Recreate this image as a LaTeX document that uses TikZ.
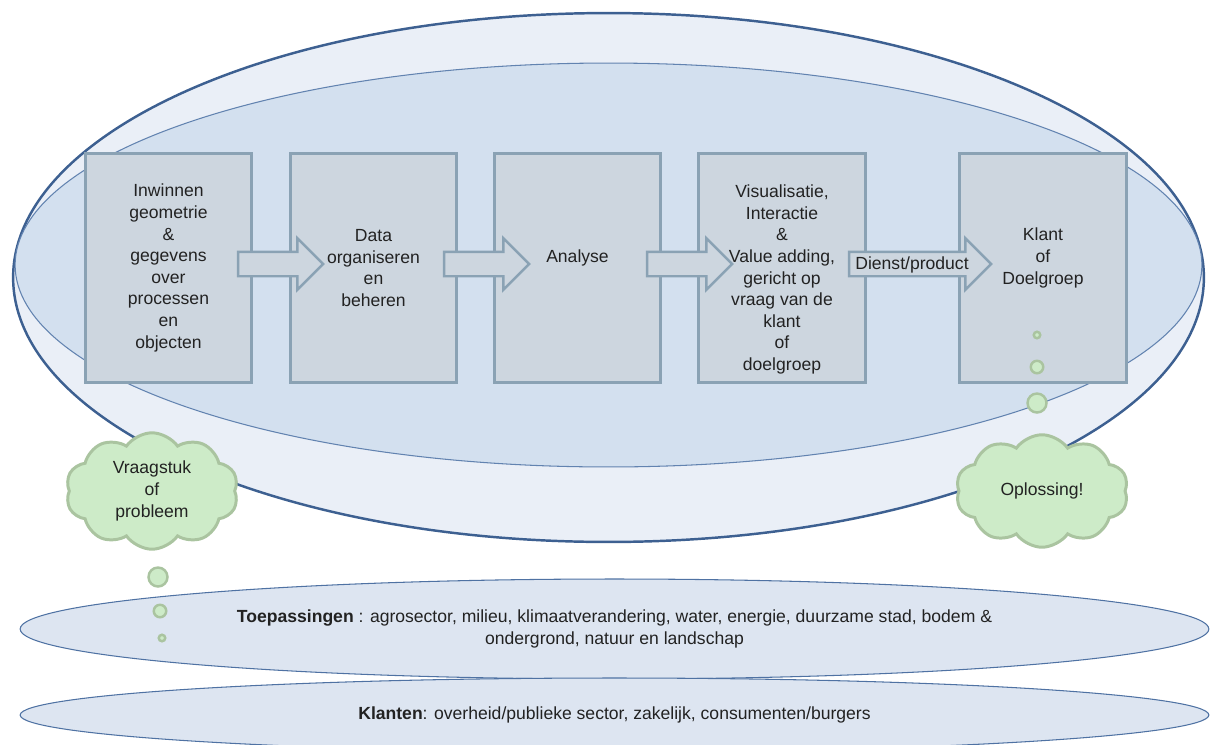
\documentclass[tikz,border=0pt]{standalone}
\usepackage{fontspec}
\setmainfont{Liberation Sans}
\usetikzlibrary{shapes.geometric,shapes.arrows,shapes.symbols}

\definecolor{outerfill}{HTML}{EAEFF7}
\definecolor{outerline}{HTML}{3D6091}
\definecolor{innerfill}{HTML}{D3E0EF}
\definecolor{innerline}{HTML}{6283B0}
\definecolor{boxfill}{HTML}{CDD6DF}
\definecolor{boxline}{HTML}{8AA2B4}
\definecolor{bandfill}{HTML}{DDE5F1}
\definecolor{bandline}{HTML}{4F72A3}
\definecolor{cloudfill}{HTML}{CDEBC8}
\definecolor{cloudline}{HTML}{AAC4A0}
\definecolor{txt}{HTML}{222222}

\tikzset{
	procbox/.style={draw=boxline, fill=boxfill, line width=1.7pt, minimum width=3.34cm, minimum height=4.6cm, inner sep=0pt},
	boxtext/.style={align=center, text=txt, font=\fontsize{10}{12.3}\selectfont},
	flowarrow/.style={single arrow, draw=boxline, fill=boxfill, line width=1.4pt, single arrow head extend=0.27cm, inner xsep=0pt, inner ysep=0.22cm, minimum height=1.7cm},
	thought/.style={cloud, cloud puffs=10, cloud puff arc=110, cloud ignores aspect, draw=cloudline, fill=cloudfill, line width=1.7pt, minimum width=3.45cm, minimum height=2.25cm, align=center, text=txt, font=\fontsize{10}{12.3}\selectfont},
	bubble/.style={circle, draw=cloudline, fill=cloudfill, line width=1.4pt, inner sep=0pt},
	band/.style={ellipse, draw=bandline, fill=bandfill, line width=0.6pt, minimum width=23.78cm, inner sep=0pt, align=center, text=txt, font=\fontsize{10}{12.3}\selectfont}
}

\begin{document}
\begin{tikzpicture}[x=0.02cm, y=-0.02cm]
		\useasboundingbox (0,0) rectangle (1213,744);
		%Ellipsen
		\node[ellipse, draw=outerline, fill=outerfill, line width=1.4pt, minimum width=23.82cm, minimum height=10.58cm] (outer) at (608.5,277.5) {};
		\node[ellipse, draw=innerline, fill=innerfill, line width=0.6pt, minimum width=23.74cm, minimum height=8.08cm] (inner) at (608.5,265) {};
		%Stappen
		\node[procbox] (box1) at (168.5,268) {};
		\node[procbox] (box2) at (373.5,268) {};
		\node[procbox] (box3) at (577.5,268) {};
		\node[procbox] (box4) at (782,268) {};
		\node[procbox] (box5) at (1043,268) {};
		\node[boxtext] (t1) at (box1.center) {Inwinnen\\geometrie\\\&\\gegevens\\over\\processen\\en\\objecten};
		\node[boxtext] (t2) at (box2.center) {Data\\organiseren\\en\\beheren};
		\node[boxtext, yshift=0.2cm] (t3) at (box3.center) {Analyse};
		\node[boxtext, yshift=-0.23cm] (t4) at (box4.center) {Visualisatie,\\Interactie\\\&\\Value adding,\\gericht op\\vraag van de\\klant\\of\\doelgroep};
		\node[boxtext, yshift=0.2cm] (t5) at (box5.center) {Klant\\of\\Doelgroep};
		%Pijlen
		\node[flowarrow] (a1) at (274.5,264) {};
		\node[flowarrow] (a2) at (480.5,264) {};
		\node[flowarrow] (a3) at (683.5,264) {};
		\node[flowarrow, minimum height=2.84cm] (a4) at (914,264) {};
		\node[boxtext] (dienst) at (912,265) {Dienst/product};
		%Toepassingen en klanten
		\node[band, minimum height=2cm] (toep) at (614.5,629) {\textbf{Toepassingen} : agrosector, milieu, klimaatverandering, water, energie, duurzame stad, bodem \&\\ondergrond, natuur en landschap};
		\node[band, minimum height=1.48cm] (klant) at (614.5,715) {\textbf{Klanten}: overheid/publieke sector, zakelijk, consumenten/burgers};
		%Wolken
		\node[thought] (vraag) at (152,491) {Vraagstuk\\of\\probleem};
		\node[thought] (oplos) at (1042,491) {Oplossing!};
		\node[bubble, minimum size=0.38cm] (v1) at (158,577) {};
		\node[bubble, minimum size=0.25cm] (v2) at (160,611) {};
		\node[bubble, minimum size=0.13cm] (v3) at (162,638) {};
		\node[bubble, minimum size=0.13cm] (o1) at (1037,335) {};
		\node[bubble, minimum size=0.25cm] (o2) at (1037,367) {};
		\node[bubble, minimum size=0.38cm] (o3) at (1037,403) {};
\end{tikzpicture}
\end{document}
